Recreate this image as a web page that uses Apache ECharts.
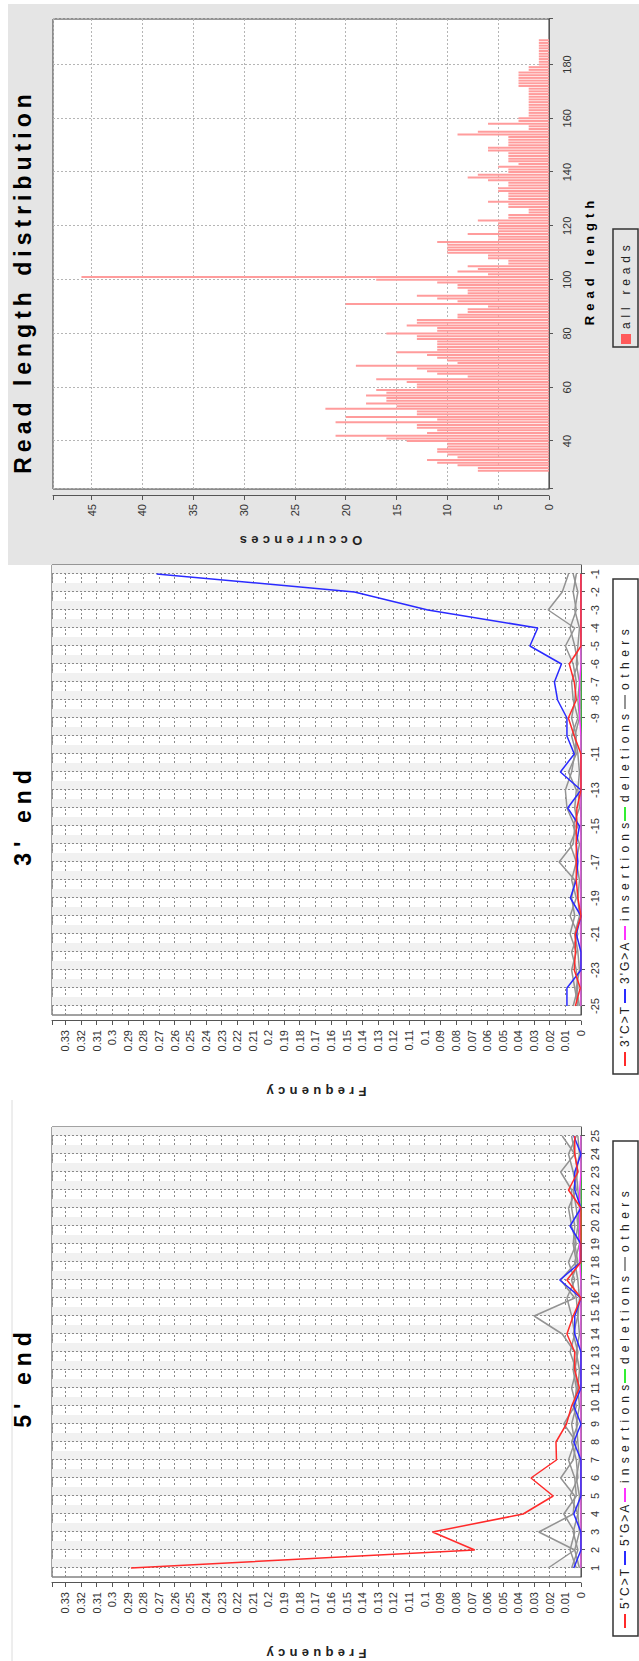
<!DOCTYPE html>
<html><head><meta charset="utf-8">
<script src="https://cdn.jsdelivr.net/npm/echarts@6/dist/echarts.min.js"></script>
<style>
html,body{margin:0;padding:0;background:#fff;overflow:hidden;}
#wrap{position:absolute;left:0;top:0;width:639px;height:1661px;overflow:hidden;background:#fff;}
#chart{position:absolute;left:0;top:0;width:1661px;height:639px;transform-origin:0 0;transform:translate(0,1661px) rotate(-90deg);}
</style></head><body><div id="wrap"><div id="chart"></div></div>
<script>
// ---------- categories ----------
const positions5 = ['1','2','3','4','5','6','7','8','9','10','11','12','13','14','15','16','17','18','19','20','21','22','23','24','25'];
const positions3 = ['-25','-24','-23','-22','-21','-20','-19','-18','-17','-16','-15','-14','-13','-12','-11','-10','-9','-8','-7','-6','-5','-4','-3','-2','-1'];

// ---------- 5' end frequencies ----------
const ct5  = [0.288,0.068,0.095,0.037,0.0178,0.032,0.0157,0.0160,0.0093,0.006,0.001,0.004,0.004,0.009,0.005,0.000,0.009,0.000,0.000,0.000,0.000,0.008,0.002,0.004,0.004];
const ga5  = [0.0046,0,0,0.0046,0,0,0,0.0046,0,0.0046,0,0,0,0.004,0.004,0,0.0136,0,0,0.007,0,0.004,0.004,0,0.0046];
const ins5 = [0,0,0,0,0,0,0,0,0,0,0,0,0,0,0,0,0,0.0008,0.0008,0.0008,0.0008,0.0008,0,0,0];
const del5 = [0,0,0,0,0,0,0,0,0,0,0,0,0,0,0,0,0,0,0,0,0,0,0,0,0];
const oth5a = [0.021,0.004,0.027,0.005,0.004,0.013,0.005,0.003,0.011,0.004,0.003,0.005,0.004,0.012,0.030,0.004,0.013,0.003,0.005,0.004,0.006,0.006,0.013,0.004,0.012];
const oth5b = [0.003,0.007,0.004,0.011,0.003,0.004,0.008,0.004,0.006,0.003,0.006,0.003,0.007,0.004,0.006,0.009,0.004,0.008,0.003,0.006,0.008,0.003,0.005,0.008,0.003];
const oth5c = [0.006,0.002,0.005,0.002,0.007,0.002,0.003,0.006,0.002,0.005,0.002,0.004,0.002,0.005,0.002,0.003,0.006,0.002,0.004,0.002,0.003,0.005,0.002,0.004,0.006];
const oth5d = [0.001,0.004,0.001,0.002,0.001,0.003,0.001,0.002,0.003,0.001,0.002,0.001,0.003,0.001,0.002,0.001,0.002,0.004,0.001,0.002,0.001,0.002,0.003,0.001,0.002];

// ---------- 3' end frequencies (positions -25 .. -1) ----------
const ct3  = [0.0036,0.0005,0.0043,0.0036,0.0036,0,0.002,0.003,0.003,0.003,0.003,0.0026,0,0,0,0.0043,0.0081,0.003,0.0043,0.0075,0,0,0,0,0];
const ga3  = [0.009,0.009,0,0,0.003,0,0.0068,0.003,0.002,0.003,0.001,0.0085,0,0.0132,0.0043,0.009,0.009,0.015,0.017,0.0125,0.0327,0.0277,0.098,0.145,0.2716];
const ins3 = [0,0,0,0,0,0,0,0,0,0,0,0,0,0,0,0,0.0008,0.0008,0.0008,0,0,0,0,0,0];
const del3 = [0,0,0,0,0,0,0,0,0,0,0,0,0,0,0,0,0,0,0,0,0,0,0,0,0];
const oth3a = [0.002,0.004,0.006,0.003,0.007,0.004,0.006,0.004,0.014,0.005,0.004,0.009,0.010,0.006,0.004,0.003,0.006,0.004,0.003,0.005,0.010,0.004,0.021,0.012,0.008];
const oth3b = [0.005,0.002,0.003,0.006,0.002,0.007,0.003,0.006,0.003,0.007,0.002,0.004,0.003,0.008,0.003,0.006,0.002,0.005,0.006,0.002,0.004,0.007,0.003,0.005,0.003];
const oth3c = [0.001,0.003,0.001,0.002,0.004,0.001,0.002,0.001,0.003,0.001,0.005,0.001,0.002,0.001,0.002,0.004,0.001,0.002,0.001,0.003,0.002,0.001,0.004,0.002,0.005];

// ---------- read length distribution ----------
const readLengths = [29,30,31,32,33,34,35,36,37,38,39,40,41,42,43,44,45,46,47,48,49,50,51,52,53,54,55,56,57,58,59,60,61,62,63,64,65,66,67,68,69,70,71,72,73,74,75,76,77,78,79,80,81,82,83,84,85,86,87,88,89,90,91,92,93,94,95,96,97,98,99,100,101,102,103,104,105,106,107,108,109,110,111,112,113,114,115,116,117,118,119,120,121,122,123,124,125,126,127,128,129,130,131,132,133,134,135,136,137,138,139,140,141,142,143,144,145,146,147,148,149,150,151,152,153,154,155,156,157,158,159,160,161,162,163,164,165,166,167,168,169,170,171,172,173,174,175,176,177,178,179,180,181,182,183,184,185,186,187,188,189];
const readCounts = [7,7,9,11,12,9,10,11,11,10,10,
 14,16,21,12,11,13,13,21,11,20,
 13,13,22,15,18,16,16,18,16,17,
 13,13,14,17,8,11,12,13,19,9,
 10,11,12,15,11,11,11,11,13,13,
 16,11,11,14,13,13,9,9,8,8,
 6,20,9,11,13,8,8,9,9,11,
 17,46,6,9,7,8,4,4,6,6,
 10,10,10,10,11,5,5,8,5,5,
 5,5,7,4,4,2,2,4,4,6,
 4,4,4,5,5,4,4,6,8,7,
 4,4,5,3,4,4,4,4,6,6,
 4,4,4,4,9,7,2,2,6,3,
 3,2,2,2,2,2,2,2,2,2,
 2,2,3,3,3,3,3,3,2,2,
 1,1,1,1,1,1,1,1,1,1];

const FONT = "'Liberation Sans', Arial, Helvetica, sans-serif";
const C = {ct:'#ff2a2a', ga:'#2a2aff', ins:'#ff33ff', del:'#33ee33', oth:'#939393', bar:'#ff9c9c'};

// text measurement for letter-spaced labels
const mctx = document.createElement('canvas').getContext('2d');
function spacedWidth(text, font, s){ mctx.font = font; return mctx.measureText(text).width + s*(text.length-1); }

function halfSteps(n){ const a=[]; for(let i=0;i<=2*n;i++) a.push('h'+i); return a; }
function freqFmt(v){ const r=Math.round(v*100); if(Math.abs(v*100-r)>1e-6) return ''; return String(+(r/100).toFixed(2)); }

const grids = [
  {left:84, top:52, width:450, height:529, show:true, backgroundColor:'#fff', borderColor:'#444', borderWidth:1},
  {left:646, top:52, width:450, height:529, show:true, backgroundColor:'#fff', borderColor:'#444', borderWidth:1},
  {left:1172, top:53, width:470, height:496, show:true, backgroundColor:'#fff', borderColor:'#333', borderWidth:1}
];

function posAxis(gi, cats, showFn){
  return {gridIndex:gi, type:'category', data:cats, boundaryGap:true, position:'bottom', offset:3,
    axisLine:{show:true, lineStyle:{color:'#555'}},
    axisTick:{show:true, alignWithLabel:true, length:4, lineStyle:{color:'#555'}},
    axisLabel:{interval: showFn || 0, fontSize:11, color:'#333', margin:5, fontFamily:FONT},
    splitLine:{show:false}};
}
function helperAxis(gi, n){
  return {gridIndex:gi, type:'category', data:halfSteps(n), boundaryGap:false, position:'top',
    axisLine:{show:false}, axisTick:{show:false}, axisLabel:{show:false},
    splitLine:{show:true, interval:function(i){return i%2===1;}, lineStyle:{color:'#8a8a8a', type:[2,2], width:1}},
    splitArea:{show:true, interval:0, areaStyle:{color:['rgba(255,255,255,0)','#f1f1f1']}}};
}
function freqAxis(gi){
  return {gridIndex:gi, type:'value', min:0, max:0.3385, interval:0.01, offset:6,
    axisLine:{show:true, lineStyle:{color:'#555'}},
    axisTick:{show:true, length:4, lineStyle:{color:'#555'}},
    axisLabel:{formatter:freqFmt, fontSize:11, color:'#333', margin:9, fontFamily:FONT},
    splitLine:{show:true, lineStyle:{color:'#8a8a8a', type:[2,2], width:1}}};
}
function lineSeries(name, xi, yi, data, color, z){
  return {type:'line', name:name, xAxisIndex:xi, yAxisIndex:yi, data:data, symbol:'none', showSymbol:false,
    lineStyle:{color:color, width:1.5}, itemStyle:{color:color}, z:z, silent:true, animation:false};
}

const series = [];
[oth5a,oth5b,oth5c,oth5d].forEach(d=>series.push(lineSeries('others',0,0,d,C.oth,2)));
series.push(lineSeries('deletions',0,0,del5,C.del,3));
series.push(lineSeries('insertions',0,0,ins5,C.ins,4));
series.push(lineSeries("5'G>A",0,0,ga5,C.ga,5));
series.push(lineSeries("5'C>T",0,0,ct5,C.ct,6));
[oth3a,oth3b,oth3c].forEach(d=>series.push(lineSeries('others ',2,1,d,C.oth,2)));
series.push(lineSeries('deletions ',2,1,del3,C.del,3));
series.push(lineSeries('insertions ',2,1,ins3,C.ins,4));
series.push(lineSeries("3'G>A",2,1,ga3,C.ga,5));
series.push(lineSeries("3'C>T",2,1,ct3,C.ct,6));
series.push({type:'bar', name:'all reads', xAxisIndex:4, yAxisIndex:2,
  data: readLengths.map((l,i)=>[l, readCounts[i]]), barWidth:2, itemStyle:{color:C.bar}, silent:true, animation:false});

function leg(name, left, top, label){
  return {data:[{name:name}], left:left, top:top, orient:'horizontal', icon:'rect', itemWidth:14, itemHeight:2,
    itemGap:0, padding:0, selectedMode:false, formatter: label ? ()=>label : undefined,
    textStyle:{fontSize:12, color:'#222', fontFamily:FONT, padding:[0,0,0,0]}};
}
const legends = [
  leg("5'C>T",33,619), leg("5'G>A",96,619), leg('insertions',159,619), leg('deletions',278,619), leg('others',390,619),
  leg("3'C>T",595,619), leg("3'G>A",658,619), leg('insertions ',721,619,'insertions'), leg('deletions ',840,619,'deletions'), leg('others ',952,619,'others'),
  {data:[{name:'all reads', itemStyle:{color:'#ff5a5a'}}], left:1317, top:620, icon:'rect', itemWidth:10, itemHeight:10, padding:0,
   selectedMode:false, textStyle:{fontSize:12, color:'#222', fontFamily:FONT}}
];

// letter spacing of the original report's titles, axis names and legends
const spacing = {"5' end":6, "3' end":6, "Read length distribution":5, "Frequency":4.3, "Occurrences":4.3, "Read length":5,
  "5'C>T":2, "5'G>A":2, "3'C>T":2, "3'G>A":2, "insertions":5.2, "deletions":5, "others":5.5, "all reads":4.8};

const TITLE_FONT = 'bold 23px ' + FONT;
const NAME_FONT = 'bold 13px ' + FONT;
function hText(text, cx, cy, font){
  const w = spacedWidth(text, font, spacing[text]);
  return {type:'text', z:100, silent:true, x:cx - w/2, y:cy, style:{text:text, font:font, fill:'#000', textAlign:'left', textVerticalAlign:'middle'}};
}
function vText(text, cx, cy, font){ // reads bottom-to-top
  const w = spacedWidth(text, font, spacing[text]);
  return {type:'text', z:100, silent:true, x:cx, y:cy + w/2, rotation:Math.PI/2, style:{text:text, font:font, fill:'#222', textAlign:'left', textVerticalAlign:'middle'}};
}

const option = {
  animation:false,
  backgroundColor:'#fff',
  textStyle:{fontFamily:FONT},
  grid: grids,
  xAxis:[
    posAxis(0, positions5),
    helperAxis(0, 25),
    posAxis(1, positions3, function(i, v){ const n=+v; return n>=-9 || (n%2)!==0; }),
    helperAxis(1, 25),
    {gridIndex:2, type:'value', min:22.2, max:196.9, splitNumber:9, position:'bottom', offset:4,
     axisLine:{show:true, lineStyle:{color:'#555'}}, axisTick:{show:true, length:4, lineStyle:{color:'#555'}},
     axisLabel:{formatter:function(v){return (Math.abs(v%20)<1e-6)?String(v):'';}, fontSize:11, color:'#333', margin:8, fontFamily:FONT},
     splitLine:{show:true, lineStyle:{color:'#b5b5b5', type:[2,2]}}}
  ],
  yAxis:[
    freqAxis(0),
    freqAxis(1),
    {gridIndex:2, type:'value', min:0, max:48.8, interval:5, offset:7,
     axisLine:{show:true, lineStyle:{color:'#555'}}, axisTick:{show:true, length:4, lineStyle:{color:'#555'}},
     axisLabel:{formatter:function(v){return (Math.abs(v%5)<1e-6)?String(v):'';}, fontSize:11, color:'#333', margin:8, fontFamily:FONT},
     splitLine:{show:true, lineStyle:{color:'#b5b5b5', type:[2,2]}}}
  ],
  legend: legends,
  graphic:[
    {type:'rect', z:-100, silent:true, shape:{x:1096,y:8,width:561,height:631}, style:{fill:'#e5e5e5'}},
    {type:'line', z:-100, silent:true, shape:{x1:0,y1:12,x2:561,y2:12}, style:{stroke:'#dcdcdc', lineWidth:1}},
    {type:'rect', z:100, silent:true, shape:{x:25,y:613,width:495,height:25}, style:{fill:'none', stroke:'#333', lineWidth:1.5}},
    {type:'rect', z:100, silent:true, shape:{x:587,y:613,width:495,height:25}, style:{fill:'none', stroke:'#333', lineWidth:1.5}},
    {type:'rect', z:100, silent:true, shape:{x:1314,y:613,width:118,height:25}, style:{fill:'none', stroke:'#333', lineWidth:1.5}},
    hText("5' end", 281, 23, TITLE_FONT),
    hText("3' end", 843, 23, TITLE_FONT),
    hText('Read length distribution', 1377, 23, TITLE_FONT),
    vText('Frequency', 8, 316.5, NAME_FONT),
    vText('Frequency', 570, 316.5, NAME_FONT),
    vText('Occurrences', 1121, 301, NAME_FONT),
    hText('Read length', 1398, 589, NAME_FONT)
  ],
  series: series
};

const chart = echarts.init(document.getElementById('chart'), null, {renderer:'svg', width:1661, height:639});
chart.setOption(option);

function applySpacing(){
  document.querySelectorAll('#chart svg text').forEach(function(t){
    const s = spacing[t.textContent.trim()];
    if (s != null) t.style.letterSpacing = s + 'px';
  });
}
applySpacing();
chart.on('finished', applySpacing);
setTimeout(applySpacing, 30);
</script></body></html>
